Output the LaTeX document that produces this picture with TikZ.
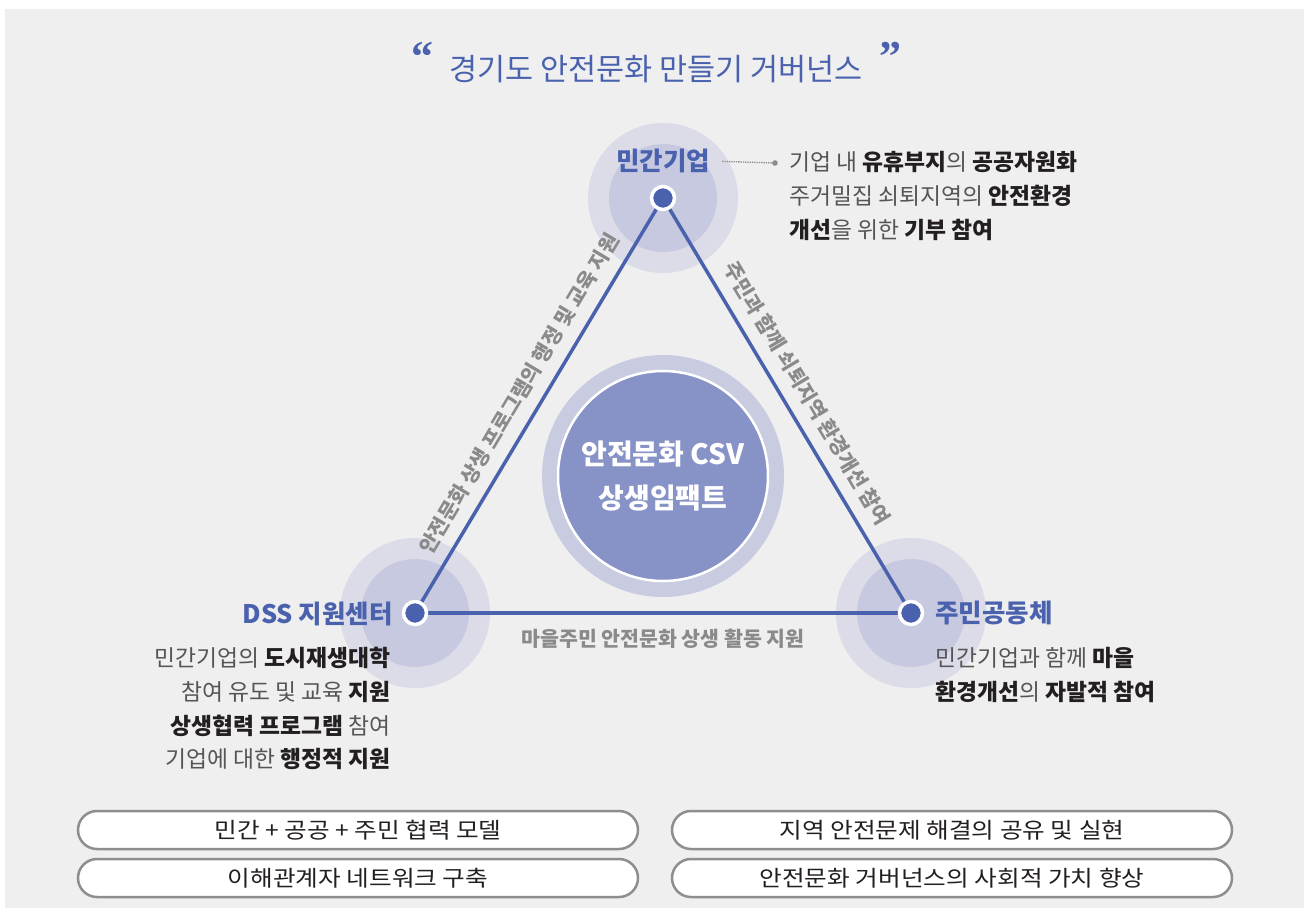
\documentclass[tikz,border=0pt]{standalone}
\usepackage{fontspec}
\setmainfont{Noto Sans CJK KR}
\newfontfamily\quotefont{Liberation Serif}
\newfontfamily\widefont[FakeStretch=1.12]{Noto Sans CJK KR}
\usetikzlibrary{calc}

\definecolor{govblue}{HTML}{4A62AE}
\definecolor{haloout}{HTML}{DBDCE8}
\definecolor{haloin}{HTML}{C6C9DF}
\definecolor{corering}{HTML}{C9CCE1}
\definecolor{corefill}{HTML}{8792C6}
\definecolor{panelgray}{HTML}{EFEFEF}
\definecolor{txtgray}{HTML}{555555}
\definecolor{txtdark}{HTML}{231F20}
\definecolor{edgegray}{HTML}{8A8A8A}
\definecolor{boxline}{HTML}{8E8E8E}

\newcommand{\keyword}[1]{{\bfseries\color{txtdark}#1}}
\newcommand{\fs}[2]{\fontsize{#1}{#2}\selectfont}

\tikzset{
  edge/.style={line width=3.5pt, govblue},
  dot/.style={circle, fill=govblue, draw=white, line width=3.5pt, minimum size=23pt, inner sep=0pt},
  role/.style={font=\bfseries\fs{25.5}{28}, text=govblue, inner sep=0pt},
  desc/.style={font=\fs{22.8}{33.8}, text=txtgray, inner sep=0pt},
  edgelabel/.style={font=\bfseries\fs{20.5}{22}, text=edgegray, inner sep=0pt, sloped},
  pill/.style={draw=boxline, line width=2.5pt, fill=white, rounded corners=19pt,
    minimum width=560pt, minimum height=38pt, inner sep=0pt, font=\widefont\fs{22}{26}, text=txtdark},
}

\begin{document}
\begin{tikzpicture}[x=1pt,y=-1pt]
\useasboundingbox (0,0) rectangle (1304,908);
\fill[white] (0,0) rectangle (1304,908);
\fill[panelgray] (5,9) rectangle (1304,908);

% title
\node[font=\fs{30.5}{34}, text=govblue] (title) at (656,69) {경기도 안전문화 만들기 거버넌스};
\node[font=\quotefont\bfseries\fs{44}{44}, text=govblue, anchor=base] (lquote) at (422,71) {“};
\node[font=\quotefont\bfseries\fs{44}{44}, text=govblue, anchor=base] (rquote) at (890,71) {”};

% the three partners
\coordinate (priv) at (663,198);
\coordinate (dss) at (415,613);
\coordinate (comm) at (911,613);
\coordinate (core) at (663,476);

\foreach \c in {priv,dss,comm}{
  \fill[haloout] (\c) circle (75pt);
  \fill[haloin] (\c) circle (54pt);
}

% centre circle
\fill[corering] (core) circle (121pt);
\draw[white, line width=2.5pt, fill=corefill] (core) circle (105pt);
\node[font=\bfseries\fs{28}{44}, text=white, align=center] (coretext) at (core) {안전문화 CSV\\상생임팩트};

% triangle
\draw[edge] (dss) -- (priv) node[edgelabel, midway, above=12pt] {안전문화 상생 프로그램의 행정 및 교육 지원};
\draw[edge] (priv) -- (comm) node[edgelabel, midway, above=12pt] {주민과 함께 쇠퇴지역 환경개선 참여};
\draw[edge] (dss) -- (comm) node[edgelabel, midway, below=14pt] {마을주민 안전문화 상생 활동 지원};

\node[dot] (privdot) at (priv) {};
\node[dot] (dssdot) at (dss) {};
\node[dot] (commdot) at (comm) {};

% names and descriptions
\node[role] (privname) at (663,161) {민간기업};
\node[role, anchor=east] (dssname) at (393,614) {DSS 지원센터};
\node[role, anchor=west] (commname) at (935,613) {주민공동체};

\coordinate (leadend) at (775,163);
\draw[edgegray, densely dotted, line width=1.3pt, shorten <=12pt] (privname.east) -- (leadend);
\fill[edgegray] (leadend) circle (2.8pt);

\node[desc, anchor=north west, align=left] (privdesc) at (789,151)
  {기업 내 \keyword{유휴부지}의 \keyword{공공자원화}\\
   주거밀집 쇠퇴지역의 \keyword{안전환경}\\
   \keyword{개선}을 위한 \keyword{기부 참여}};
\node[desc, anchor=north east, align=right] (dssdesc) at (391,647)
  {민간기업의 \keyword{도시재생대학}\\
   참여 유도 및 교육 \keyword{지원}\\
   \keyword{상생협력 프로그램} 참여\\
   기업에 대한 \keyword{행정적 지원}};
\node[desc, anchor=north west, align=left] (commdesc) at (935,647)
  {민간기업과 함께 \keyword{마을}\\
   \keyword{환경개선}의 \keyword{자발적 참여}};

% outcomes
\node[pill] (model) at (358,830) {민간 + 공공 + 주민 협력 모델};
\node[pill] (share) at (952,830) {지역 안전문제 해결의 공유 및 실현};
\node[pill] (network) at (358,878) {이해관계자 네트워크 구축};
\node[pill] (value) at (952,878) {안전문화 거버넌스의 사회적 가치 향상};
\end{tikzpicture}
\end{document}
